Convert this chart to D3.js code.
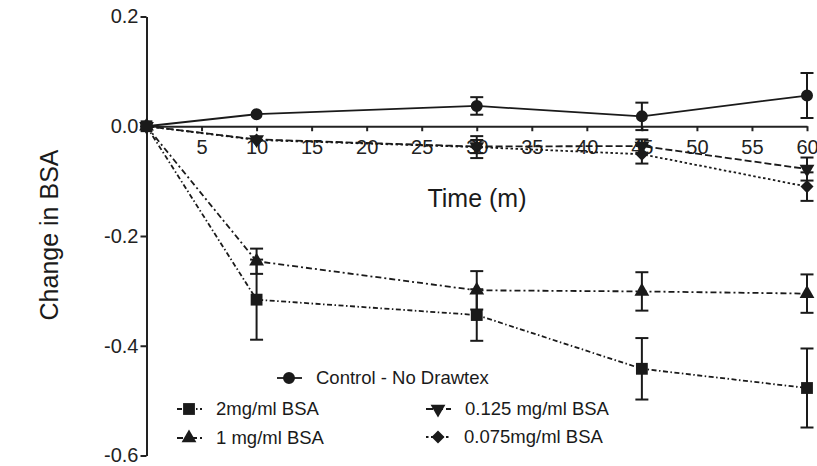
<!DOCTYPE html>
<html>
<head>
<meta charset="utf-8">
<script src="https://cdn.jsdelivr.net/npm/d3@7"></script>
<style>
  body { margin: 0; background: #fff; }
  svg { font-family: "Liberation Sans", Arial, sans-serif; }
  .axis path, .axis line { stroke: #222; stroke-width: 2; }
  .axis text { font-size: 20px; fill: #222; }
</style>
</head>
<body>
<svg id="chart" width="817" height="466"></svg>
<script>
// values
const times = [0, 10, 30, 45, 60];
const xTicks = [5, 10, 15, 20, 25, 30, 35, 40, 45, 50, 55, 60];
const yTicks = [0.2, 0.0, -0.2, -0.4, -0.6];

const control    = [0, 0.022, 0.037, 0.018, 0.056];
const controlErr = [0, 0.004, 0.016, 0.025, 0.041];
const bsa2       = [0, -0.316, -0.344, -0.442, -0.477];
const bsa2Err    = [0, 0.073, 0.047, 0.056, 0.072];
const bsa1       = [0, -0.246, -0.299, -0.301, -0.305];
const bsa1Err    = [0, 0.023, 0.035, 0.035, 0.035];
const bsa0125    = [0, -0.024, -0.037, -0.036, -0.078];
const bsa0125Err = [0, 0.006, 0.012, 0.012, 0.021];
const bsa0075    = [0, -0.025, -0.038, -0.051, -0.110];
const bsa0075Err = [0, 0.006, 0.020, 0.017, 0.026];

const series = [
  { name: 'Control - No Drawtex', vals: control, err: controlErr, dash: null, sym: 'circle' },
  { name: '0.075mg/ml BSA', vals: bsa0075, err: bsa0075Err, dash: '2.5,2.5', sym: 'diamond' },
  { name: '0.125 mg/ml BSA', vals: bsa0125, err: bsa0125Err, dash: '7,3', sym: 'down' },
  { name: '1 mg/ml BSA', vals: bsa1, err: bsa1Err, dash: '6,3,2,3', sym: 'up' },
  { name: '2mg/ml BSA', vals: bsa2, err: bsa2Err, dash: '5,2.5,1.5,2.5', sym: 'square' }
];

const svg = d3.select('#chart');
const ink = '#1a1a1a';

const x = d3.scaleLinear().domain([0, 60]).range([146.5, 807]);
const y = d3.scaleLinear().domain([-0.6, 0.2]).range([455.5, 16.5]);

// symbol path + rotation
function symbolOf(kind) {
  if (kind === 'circle') return { d: d3.symbol(d3.symbolCircle, 113)(), rot: 0 };
  if (kind === 'square') return { d: d3.symbol(d3.symbolSquare, 140)(), rot: 0 };
  if (kind === 'up') return { d: d3.symbol(d3.symbolTriangle, 95)(), rot: 0 };
  if (kind === 'down') return { d: d3.symbol(d3.symbolTriangle, 95)(), rot: 180 };
  return { d: d3.symbol(d3.symbolSquare, 85)(), rot: 45 };
}

// axes
svg.append('g')
  .attr('class', 'axis')
  .attr('transform', `translate(${x(0)},0)`)
  .call(d3.axisLeft(y).tickValues(yTicks).tickSize(6).tickSizeOuter(0).tickPadding(2)
    .tickFormat(d => d.toFixed(1)));

svg.append('g')
  .attr('class', 'axis')
  .attr('transform', `translate(0,${y(0)})`)
  .call(d3.axisBottom(x).tickValues(xTicks).tickSize(5).tickSizeOuter(0).tickPadding(9));

// axis titles
svg.append('text')
  .attr('x', 477).attr('y', 207)
  .attr('text-anchor', 'middle')
  .attr('font-size', 25).attr('fill', ink)
  .text('Time (m)');

svg.append('text')
  .attr('transform', 'translate(58,235) rotate(-90)')
  .attr('text-anchor', 'middle')
  .attr('font-size', 25).attr('fill', ink)
  .text('Change in BSA');

const line = d3.line().x((d, i) => x(times[i])).y(d => y(d));

// lines
series.forEach(s => {
  svg.append('path')
    .datum(s.vals)
    .attr('d', line)
    .attr('fill', 'none')
    .attr('stroke', ink)
    .attr('stroke-width', 1.8)
    .attr('stroke-dasharray', s.dash);
});

// error bars + markers
series.forEach(s => {
  const g = svg.append('g');
  const pts = s.vals.map((v, i) => ({ t: times[i], v, e: s.err[i] })).filter(p => p.e > 0.008);
  g.selectAll('line.bar').data(pts).enter().append('line')
    .attr('x1', d => x(d.t)).attr('x2', d => x(d.t))
    .attr('y1', d => y(d.v + d.e)).attr('y2', d => y(d.v - d.e))
    .attr('stroke', ink).attr('stroke-width', 2);
  [1, -1].forEach(sign => {
    g.selectAll('line.cap' + sign).data(pts).enter().append('line')
      .attr('x1', d => x(d.t) - 6.5).attr('x2', d => x(d.t) + 6.5)
      .attr('y1', d => y(d.v + sign * d.e)).attr('y2', d => y(d.v + sign * d.e))
      .attr('stroke', ink).attr('stroke-width', 2);
  });
  const sym = symbolOf(s.sym);
  g.selectAll('path.mark').data(s.vals).enter().append('path')
    .attr('d', sym.d)
    .attr('transform', (d, i) => `translate(${x(times[i])},${y(d)}) rotate(${sym.rot})`)
    .attr('fill', ink);
});

// legend
const legendItems = [
  { s: series[0], lx: 277, mx: 289, tx: 316, ly: 378 },
  { s: series[4], lx: 177, mx: 189, tx: 216, ly: 409 },
  { s: series[2], lx: 426, mx: 438, tx: 465, ly: 409 },
  { s: series[3], lx: 177, mx: 189, tx: 216, ly: 438 },
  { s: series[1], lx: 426, mx: 438, tx: 464, ly: 437 }
];
const leg = svg.append('g');
legendItems.forEach(it => {
  leg.append('line')
    .attr('x1', it.lx).attr('x2', it.lx + 25)
    .attr('y1', it.ly).attr('y2', it.ly)
    .attr('stroke', ink).attr('stroke-width', 1.8)
    .attr('stroke-dasharray', it.s.dash);
  const sym = symbolOf(it.s.sym);
  leg.append('path')
    .attr('d', sym.d)
    .attr('transform', `translate(${it.mx},${it.ly}) rotate(${sym.rot})`)
    .attr('fill', ink);
  leg.append('text')
    .attr('x', it.tx).attr('y', it.ly)
    .attr('dy', '0.35em')
    .attr('font-size', 18.5).attr('fill', ink)
    .text(it.s.name);
});
</script>
</body>
</html>
